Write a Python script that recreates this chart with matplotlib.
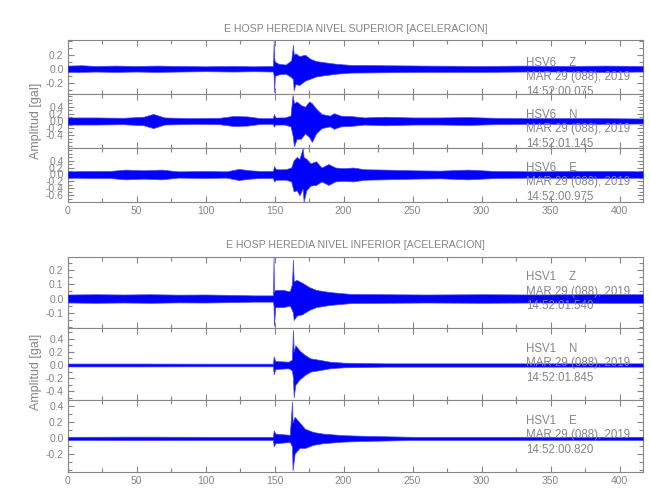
import matplotlib.pyplot as plt
from matplotlib.ticker import MultipleLocator, FixedLocator, FormatStrFormatter

plt.rcParams['font.family'] = ['Liberation Sans', 'DejaVu Sans']

GRAY = '#858585'
BLUE = '#0000ff'

# envelope of each trace (time in s, upper / lower amplitude in gal)
# --- HSV6 (nivel superior) ---
z6_t = [0, 10, 20, 35, 50, 65, 80, 100, 120, 135, 148.8, 149.3, 149.6, 150.2, 153, 158, 162, 163.3, 163.8,
        165, 168, 172, 176, 180, 187, 195, 205, 230, 260, 300, 330, 360, 390, 417]
z6_up = [0.045, 0.05, 0.04, 0.045, 0.04, 0.045, 0.04, 0.035, 0.04, 0.035, 0.04, 0.40, 0.15, 0.10, 0.07, 0.06, 0.12, 0.34, 0.20,
         0.22, 0.18, 0.20, 0.14, 0.11, 0.09, 0.07, 0.055, 0.05, 0.045, 0.04, 0.045, 0.04, 0.045, 0.04]
z6_lo = [-0.045, -0.045, -0.04, -0.045, -0.04, -0.045, -0.04, -0.035, -0.04, -0.035, -0.04, -0.10, -0.33, -0.10, -0.08, -0.07, -0.12, -0.15, -0.31,
         -0.22, -0.23, -0.17, -0.14, -0.11, -0.09, -0.07, -0.055, -0.05, -0.045, -0.045, -0.04, -0.04, -0.045, -0.04]

n6_t = [0, 20, 40, 55, 62, 70, 90, 110, 120, 130, 140, 148.8, 149.4, 150.5, 157, 161.5, 163, 164, 166, 169,
        172, 175, 177, 180, 184, 190, 193, 198, 205, 215, 230, 250, 270, 290, 310, 330, 360, 390, 417]
n6_up = [0.10, 0.10, 0.09, 0.12, 0.20, 0.10, 0.08, 0.09, 0.14, 0.13, 0.08, 0.08, 0.20, 0.10, 0.10, 0.15, 0.73, 0.50, 0.55, 0.45,
         0.40, 0.55, 0.50, 0.35, 0.20, 0.15, 0.22, 0.15, 0.14, 0.10, 0.12, 0.10, 0.10, 0.11, 0.09, 0.08, 0.08, 0.08, 0.07]
n6_lo = [-0.10, -0.10, -0.09, -0.12, -0.20, -0.10, -0.08, -0.09, -0.14, -0.13, -0.08, -0.08, -0.16, -0.10, -0.10, -0.15, -0.40, -0.71, -0.50, -0.50,
         -0.35, -0.45, -0.59, -0.35, -0.20, -0.15, -0.22, -0.15, -0.14, -0.10, -0.12, -0.10, -0.10, -0.11, -0.09, -0.08, -0.08, -0.08, -0.07]

e6_t = [0, 15, 30, 42, 55, 68, 80, 100, 115, 124, 132, 140, 148.8, 149.5, 151, 158, 162, 163.8, 166, 168, 170.3,
        171, 173, 176, 180, 184, 189, 194, 200, 207, 215, 230, 250, 270, 290, 310, 340, 370, 400, 417]
e6_up = [0.09, 0.10, 0.10, 0.14, 0.12, 0.14, 0.09, 0.10, 0.09, 0.16, 0.12, 0.10, 0.10, 0.24, 0.15, 0.15, 0.20, 0.41, 0.50, 0.45, 0.75,
         0.50, 0.45, 0.32, 0.38, 0.20, 0.30, 0.20, 0.18, 0.20, 0.15, 0.14, 0.12, 0.11, 0.14, 0.10, 0.09, 0.10, 0.10, 0.09]
e6_lo = [-0.09, -0.10, -0.10, -0.14, -0.12, -0.14, -0.09, -0.10, -0.09, -0.16, -0.12, -0.10, -0.10, -0.20, -0.15, -0.15, -0.20, -0.49, -0.45, -0.60, -0.40,
         -0.78, -0.45, -0.32, -0.30, -0.20, -0.30, -0.20, -0.18, -0.20, -0.15, -0.14, -0.12, -0.11, -0.14, -0.10, -0.09, -0.10, -0.10, -0.09]

# --- HSV1 (nivel inferior) ---
z1_t = [0, 20, 40, 60, 80, 100, 120, 135, 148.8, 149.2, 149.5, 150.5, 156, 161, 162.5, 163.3, 163.8,
        166, 170, 175, 180, 190, 205, 230, 260, 300, 340, 380, 417]
z1_up = [0.028, 0.03, 0.028, 0.03, 0.027, 0.028, 0.025, 0.022, 0.022, 0.29, 0.05, 0.06, 0.06, 0.05, 0.10, 0.27, 0.12,
         0.13, 0.11, 0.08, 0.06, 0.045, 0.032, 0.03, 0.028, 0.03, 0.028, 0.03, 0.03]
z1_lo = [-0.028, -0.03, -0.028, -0.03, -0.027, -0.028, -0.025, -0.022, -0.022, -0.05, -0.19, -0.06, -0.06, -0.05, -0.08, -0.10, -0.15,
         -0.12, -0.11, -0.08, -0.06, -0.045, -0.032, -0.03, -0.028, -0.03, -0.028, -0.03, -0.03]

n1_t = [0, 50, 100, 148.8, 149.3, 150.5, 160, 162.5, 163.3, 163.8, 165, 168, 172, 176, 182, 190, 200, 230, 300, 417]
n1_up = [0.022, 0.022, 0.02, 0.02, 0.13, 0.06, 0.05, 0.08, 0.53, 0.20, 0.30, 0.22, 0.15, 0.10, 0.08, 0.05, 0.035, 0.025, 0.025, 0.025]
n1_lo = [-0.022, -0.022, -0.02, -0.02, -0.14, -0.06, -0.05, -0.08, -0.20, -0.49, -0.30, -0.22, -0.15, -0.10, -0.08, -0.05, -0.035, -0.025, -0.025, -0.025]

e1_t = [0, 50, 100, 148.8, 149.3, 150.5, 161, 162.6, 163, 164.5, 168, 172, 178, 185, 200, 220, 250, 417]
e1_up = [0.02, 0.022, 0.02, 0.02, 0.10, 0.06, 0.045, 0.46, 0.20, 0.27, 0.20, 0.12, 0.08, 0.06, 0.04, 0.03, 0.02, 0.02]
e1_lo = [-0.02, -0.022, -0.02, -0.02, -0.10, -0.06, -0.045, -0.10, -0.40, -0.19, -0.12, -0.12, -0.08, -0.06, -0.04, -0.03, -0.02, -0.02]

titles = ['E HOSP HEREDIA NIVEL SUPERIOR [ACELERACION]', 'E HOSP HEREDIA NIVEL INFERIOR [ACELERACION]']
stations = ['HSV6    Z', 'HSV6    N', 'HSV6    E', 'HSV1    Z', 'HSV1    N', 'HSV1    E']
start_times = ['14:52:00.075', '14:52:01.145', '14:52:00.975', '14:52:01.540', '14:52:01.845', '14:52:00.820']
date_label = 'MAR 29 (088), 2019'

traces = [(z6_t, z6_up, z6_lo), (n6_t, n6_up, n6_lo), (e6_t, e6_up, e6_lo),
          (z1_t, z1_up, z1_lo), (n1_t, n1_up, n1_lo), (e1_t, e1_up, e1_lo)]

# layout in pixels: (top, bottom) of each panel, y-limits, labelled ticks, minor step, first text line y
panel_px = [(40, 94), (94, 148), (148, 202), (257, 328), (328, 400), (400, 472)]
ylims = [(-0.36, 0.41), (-0.76, 0.76), (-0.79, 0.76), (-0.206, 0.29), (-0.53, 0.56), (-0.42, 0.48)]
yticks = [[-0.2, 0.0, 0.2], [-0.4, -0.2, 0.0, 0.2, 0.4], [-0.6, -0.4, -0.2, 0.0, 0.2, 0.4],
          [-0.1, 0.0, 0.1, 0.2], [-0.4, -0.2, 0.0, 0.2, 0.4], [-0.2, 0.0, 0.2, 0.4]]
yminor = [0.1, 0.1, 0.1, 0.05, 0.1, 0.1]
text_y = [63, 115, 168, 277.5, 349, 421]

W, H = 650, 500
LEFT, RIGHT = 67.7, 643

fig = plt.figure(figsize=(W / 100, H / 100), dpi=100)

for i, (t, up, lo) in enumerate(traces):
    top, bot = panel_px[i]
    ax = fig.add_axes([LEFT / W, 1 - bot / H, (RIGHT - LEFT) / W, (bot - top) / H])
    ax.fill_between(t, lo, up, color=BLUE, edgecolor='#4848ff', linewidth=0.5, zorder=3)
    ax.set_xlim(0, 417)
    ax.set_ylim(*ylims[i])

    ax.xaxis.set_major_locator(MultipleLocator(50))
    ax.xaxis.set_minor_locator(MultipleLocator(25))
    ax.yaxis.set_major_locator(FixedLocator(yticks[i]))
    ax.yaxis.set_minor_locator(MultipleLocator(yminor[i]))
    ax.yaxis.set_major_formatter(FormatStrFormatter('%.1f'))
    ax.tick_params(which='both', direction='in', top=True, right=True, color=GRAY,
                   labelcolor=GRAY, labelsize=7.5, pad=3, width=0.8)
    ax.tick_params(which='major', length=4)
    ax.tick_params(which='minor', length=3)
    if i not in (2, 5):
        ax.tick_params(axis='x', labelbottom=False)
    for sp in ax.spines.values():
        sp.set_color(GRAY)
        sp.set_linewidth(0.8)

    lines = [stations[i], date_label, start_times[i]]
    for k, s in enumerate(lines):
        fig.text(525.7 / W, 1 - (text_y[i] + 14.3 * k) / H, s, color=GRAY, fontsize=8.3,
                 ha='left', va='center', zorder=1)

fig.text(355.5 / W, 1 - 29 / H, titles[0], color=GRAY, fontsize=7.6, ha='center', va='center')
fig.text(355.5 / W, 1 - 245 / H, titles[1], color=GRAY, fontsize=7.6, ha='center', va='center')
fig.text(36 / W, 1 - 121 / H, 'Amplitud [gal]', color=GRAY, fontsize=9, rotation=90, ha='center', va='center')
fig.text(36 / W, 1 - 372 / H, 'Amplitud [gal]', color=GRAY, fontsize=9, rotation=90, ha='center', va='center')

plt.savefig('out.png', dpi=100)
